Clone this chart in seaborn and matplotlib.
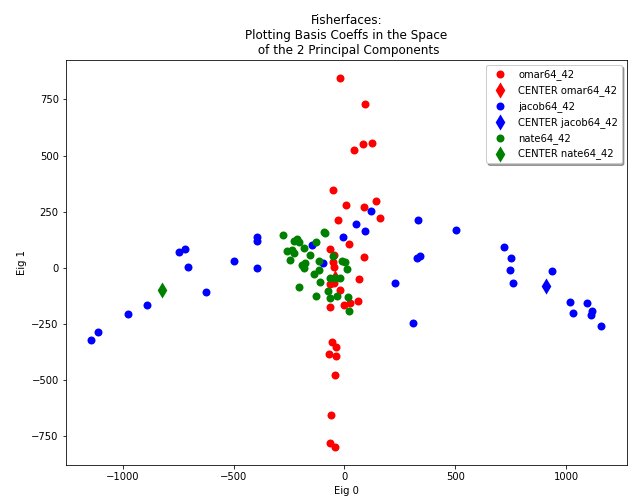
import matplotlib
matplotlib.use("Agg")
import matplotlib.pyplot as plt
import seaborn as sns

# ── Data ─────────────────────────────────────────────────────────────────────
omar_x = [-21, 95, 84, 125, 42, -53, 9, 90, 143, 159, -30, 23, -63, -48, 87,
          -51, -45, 65, -63, -48, -18, -66, -3, 27, 60, -56, -36, -68, -36,
          -41, -60, -66, -44]
omar_y = [844, 732, 553, 557, 524, 348, 280, 269, 299, 222, 211, 104, 83, 58,
          49, 24, 3, -52, -72, -68, -98, -175, -165, -156, -147, -333, -354,
          -384, -396, -479, -655, -783, -798]

jacob_x = [120, 51, 95, -5, -394, -394, -394, -146, -96, 227, -1142, -1112,
           -974, -891, -744, -718, -706, -624, -500, 331, 506, 328, 340, 308,
           719, 753, 746, 762, 938, 1020, 1032, 1096, 1118, 1114, 1160]
jacob_y = [251, 195, 164, 137, 135, 118, -1, 100, 21, -70, -321, -286, -205,
           -168, 68, 83, 4, -110, 31, 214, 167, 43, 50, -246, 92, 42, -9, -67,
           -16, -155, -202, -158, -192, -213, -262]

nate_x = [-279, -229, -214, -206, -93, -86, -126, -184, -259, -236, -229,
          -244, -157, -116, -191, -176, -184, -116, -138, -51, -10, 5, 12,
          -108, -63, -41, -18, -206, -73, -32, -65, -128, 16, 20]
nate_y = [144, 120, 128, 115, 158, 155, 116, 89, 73, 80, 65, 36, 58, 30, 13,
          21, -1, -9, -28, 54, 28, 24, -6, -65, -46, -46, -44, -87, -106, -125,
          -134, -127, -132, -194]

# class centres (the red one sits under the green cluster)
centers = {"omar64_42": (-41, -46), "jacob64_42": (912, -80), "nate64_42": (-823, -101)}
groups = [("omar64_42", omar_x, omar_y, "red"),
          ("jacob64_42", jacob_x, jacob_y, "blue"),
          ("nate64_42", nate_x, nate_y, "green")]

# ── Plot ─────────────────────────────────────────────────────────────────────
fig, ax = plt.subplots(figsize=(632 / 72, 500 / 72), dpi=72)
fig.subplots_adjust(left=0.104, right=0.992, top=0.88, bottom=0.07)

for name, xs, ys, clr in groups:
    sns.scatterplot(x=xs, y=ys, color=clr, s=64, linewidth=0, ax=ax, label=name)
    cx, cy = centers[name]
    sns.scatterplot(x=[cx], y=[cy], color=clr, marker="d", s=130, linewidth=0,
                    ax=ax, label="CENTER " + name)

ax.set_title("Fisherfaces:\nPlotting Basis Coeffs in the Space\n of the 2 Principal Components")
ax.set_xlabel("Eig 0")
ax.set_ylabel("Eig 1")
ax.legend(loc="upper right", shadow=True)

fig.savefig("out.png", dpi=72)
